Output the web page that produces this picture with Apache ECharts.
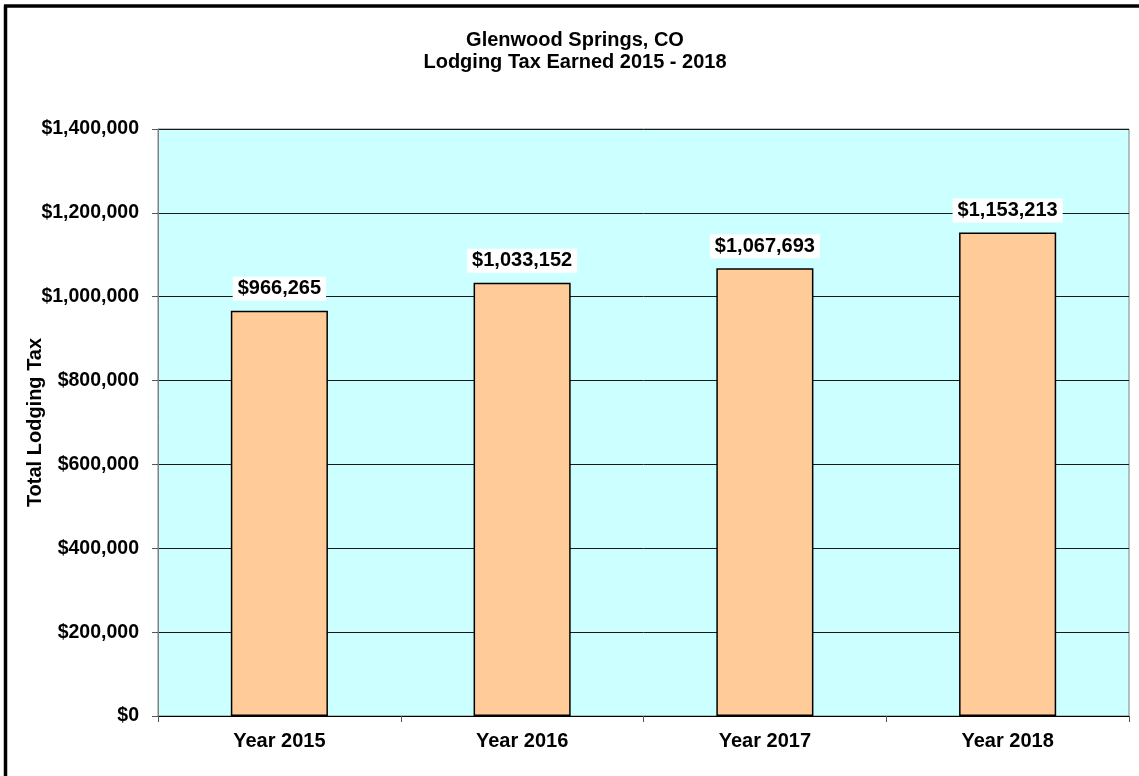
<!DOCTYPE html>
<html>
<head>
<meta charset="utf-8">
<script src="https://cdn.jsdelivr.net/npm/echarts@6/dist/echarts.min.js"></script>
<style>
html,body{margin:0;padding:0;background:#fff;}
#chart{width:1139px;height:776px;}
</style>
</head>
<body>
<div id="chart"></div>
<script>
const categories = ['Year 2015', 'Year 2016', 'Year 2017', 'Year 2018'];
const lodgingTax = [966265, 1033152, 1067693, 1153213];
const titleLines = ['Glenwood Springs, CO', 'Lodging Tax Earned 2015 - 2018'];
const yAxisName = 'Total Lodging Tax';

function money(v) {
  return '$' + Math.round(v).toString().replace(/\B(?=(\d{3})+(?!\d))/g, ',');
}

const FONT = '"Liberation Sans", Arial, sans-serif';
const chart = echarts.init(document.getElementById('chart'), null, {renderer: 'canvas'});
chart.setOption({
  backgroundColor: '#ffffff',
  animation: false,
  title: {
    text: titleLines.join('\n'),
    left: 570,
    textAlign: 'center',
    top: 24,
    textStyle: {fontFamily: FONT, fontSize: 20, fontWeight: 'bold', color: '#000', lineHeight: 22}
  },
  graphic: [
    {type: 'line', shape: {x1: 5.5, y1: 5.5, x2: 5.5, y2: 776}, style: {stroke: '#000', lineWidth: 3.5}},
    {type: 'line', shape: {x1: 4, y1: 6, x2: 1139, y2: 6}, style: {stroke: '#000', lineWidth: 3.5}}
  ],
  grid: {
    left: 158, top: 129, right: 10, bottom: 60,
    show: true, backgroundColor: '#CCFFFF', borderColor: '#808080', borderWidth: 1
  },
  xAxis: {
    type: 'category',
    data: categories,
    axisLine: {show: true, lineStyle: {color: '#000', width: 1}},
    axisTick: {show: true, length: 6, lineStyle: {color: '#555'}},
    axisLabel: {fontFamily: FONT, fontSize: 20, fontWeight: 'bold', color: '#000', margin: 15}
  },
  yAxis: {
    type: 'value',
    min: 0, max: 1400000, interval: 200000,
    name: yAxisName,
    nameLocation: 'middle',
    nameGap: 113,
    nameMoveOverlap: false,
    nameTextStyle: {fontFamily: FONT, fontSize: 20, fontWeight: 'bold', color: '#000'},
    axisLine: {show: true, lineStyle: {color: '#808080', width: 1}},
    axisTick: {show: true, length: 6, lineStyle: {color: '#555'}},
    splitLine: {show: true, lineStyle: {color: '#1a1a1a', width: 1}},
    axisLabel: {fontFamily: FONT, fontSize: 19.5, fontWeight: 'bold', color: '#000', margin: 19, formatter: money}
  },
  series: [{
    type: 'bar',
    data: lodgingTax,
    barWidth: '40%',
    itemStyle: {color: '#FFCC99', borderColor: '#000', borderWidth: 1.5},
    label: {
      show: true,
      position: 'top',
      distance: 10,
      formatter: p => money(p.value),
      fontFamily: FONT, fontSize: 20, fontWeight: 'bold', color: '#000',
      backgroundColor: '#ffffff',
      padding: [2, 5, 2, 5]
    }
  }]
});
</script>
</body>
</html>
